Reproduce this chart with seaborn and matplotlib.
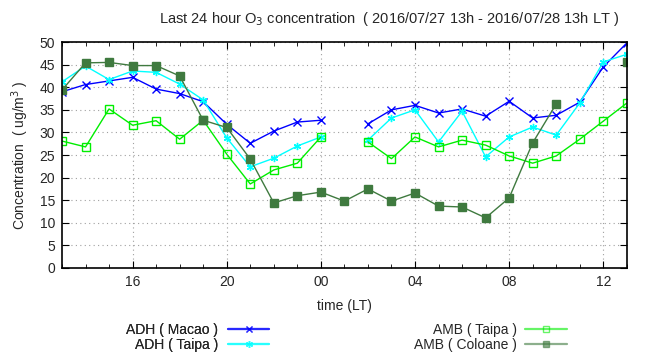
import numpy as np
import pandas as pd
import matplotlib
matplotlib.use('Agg')
import matplotlib.pyplot as plt
from matplotlib.lines import Line2D
import seaborn as sns

# horas 13h -> 13h do dia seguinte (indice 0..24)
hours = list(range(25))
tick_pos = [3, 7, 11, 15, 19, 23]
tick_labels = ['16', '20', '00', '04', '08', '12']

nan = np.nan
adh_macao = [39.0, 40.6, 41.4, 42.2, 39.6, 38.6, 36.8, 31.8, 27.6, 30.3, 32.3, 32.7,
             nan, 31.9, 35.0, 36.0, 34.3, 35.2, 33.6, 36.9, 33.2, 33.8, 36.7, 44.5, 49.8]
adh_taipa = [41.2, 44.7, 41.7, 43.6, 43.3, 40.7, 37.2, 28.8, 22.4, 24.3, 27.0, 29.0,
             nan, 28.3, 33.2, 35.0, 27.9, 34.7, 24.6, 29.0, 31.2, 29.4, 36.5, 45.6, 47.3]
amb_taipa = [28.1, 26.8, 35.2, 31.6, 32.6, 28.5, 32.7, 25.2, 18.6, 21.7, 23.2, 29.0,
             nan, 27.9, 24.2, 29.0, 26.8, 28.3, 27.2, 24.8, 23.2, 24.8, 28.5, 32.5, 36.5]
amb_coloane = [39.4, 45.4, 45.5, 44.8, 44.8, 42.5, 32.7, 31.1, 24.1, 14.4, 16.0, 16.8,
               14.8, 17.5, 14.8, 16.6, 13.7, 13.5, 11.1, 15.5, 27.7, 36.3, nan, nan, 45.6]

series = [
    ('ADH ( Macao )', adh_macao, '#0000ff', 'x', '#0000ff'),
    ('ADH ( Taipa )', adh_taipa, '#00ffff', (6, 2, 0), '#00ffff'),
    ('AMB ( Taipa )', amb_taipa, '#00ee00', 's', 'none'),
    ('AMB ( Coloane )', amb_coloane, '#3f7a3f', 's', '#3f7a3f'),
]

sns.set_style('ticks')
plt.rcParams['font.family'] = ['Liberation Sans', 'DejaVu Sans']
plt.rcParams['font.size'] = 10

fig = plt.figure(figsize=(6.47, 3.53), dpi=100)
ax = fig.add_axes([0.0958, 0.2408, 0.873, 0.640])

handles = []
for nome, vals, cor, mk, mfc in series:
    df = pd.DataFrame({'hora': hours, 'valor': vals})
    # separo em trechos para a linha quebrar onde falta dado
    df['seg'] = df['valor'].isna().cumsum()
    df = df.dropna()
    sns.lineplot(data=df, x='hora', y='valor', units='seg', estimator=None,
                 color=cor, marker=mk, markersize=5.2, markerfacecolor=mfc,
                 markeredgecolor=cor, markeredgewidth=1.0, linewidth=1.0,
                 legend=False, ax=ax)
    handles.append(Line2D([], [], color=cor, alpha=0.6, lw=1.6, marker=mk,
                          markersize=5, markerfacecolor=mfc, markeredgecolor=cor,
                          markeredgewidth=1.0, label=nome))

ax.set_xlim(0, 24)
ax.set_ylim(0, 50)
ax.set_xticks(tick_pos)
ax.set_xticklabels(tick_labels)
ax.set_xticks(hours, minor=True)
ax.set_yticks(range(0, 51, 5))
ax.tick_params(which='both', direction='in', top=True, right=True, color='black')
ax.tick_params(which='major', length=5, pad=5)
ax.tick_params(which='minor', length=3)
ax.grid(True, which='major', color='#a0a0a0', linestyle=(0, (1, 3)), linewidth=0.8)
for s in ax.spines.values():
    s.set_color('black')
    s.set_linewidth(1.2)

ax.set_xlabel('time (LT)', labelpad=7)
ax.set_ylabel('Concentration  ( ug/m$^3$ )', labelpad=6)

fig.text(0.602, 0.947, 'Last 24 hour O$_3$ concentration  ( 2016/07/27 13h - 2016/07/28 13h LT )',
         ha='center', va='center', fontsize=10.5)

leg1 = fig.legend(handles=handles[:2], loc='lower right', bbox_to_anchor=(0.425, -0.012),
                  markerfirst=False, frameon=False, handlelength=3.0, labelspacing=0.05,
                  borderaxespad=0, handletextpad=0.7)
fig.legend(handles=handles[2:], loc='lower right', bbox_to_anchor=(0.885, -0.012),
           markerfirst=False, frameon=False, handlelength=3.0, labelspacing=0.05,
           borderaxespad=0, handletextpad=0.6)
fig.add_artist(leg1)

fig.savefig('out.png', dpi=100)
